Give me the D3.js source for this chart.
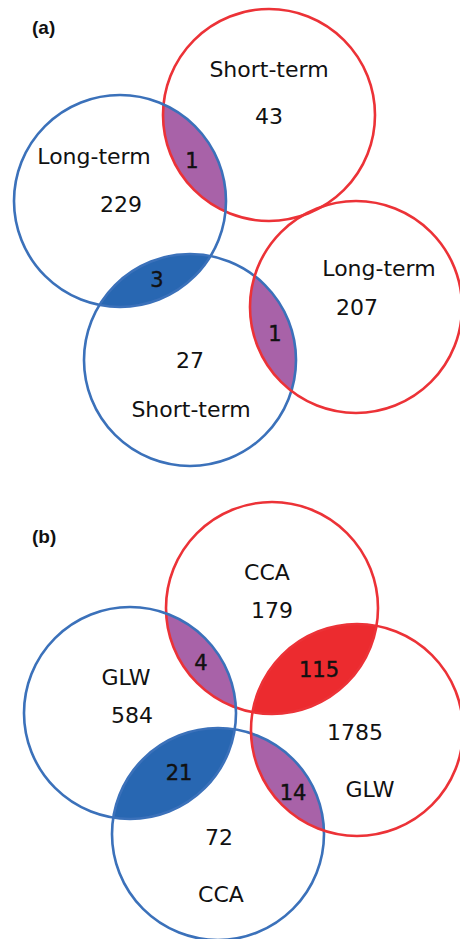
<!DOCTYPE html>
<html>
<head>
<meta charset="utf-8">
<script src="https://cdn.jsdelivr.net/npm/d3@7"></script>
<style>
  body { margin: 0; background: #fff; }
  text { font-family: "DejaVu Sans", Verdana, sans-serif; fill: #111; }
  .panel-label { font-family: "Liberation Sans", Arial, sans-serif; font-weight: bold; }
</style>
</head>
<body>
<svg id="chart" width="460" height="939"></svg>
<script>
// panel (a): sets are top, left, bottom, right circles
var setNamesA = ["Short-term", "Long-term", "Short-term", "Long-term"]
var setGroupA = ["red", "blue", "blue", "red"]
var uniqueA = [43, 229, 27, 207]
var overlapPairsA = [[0, 1], [1, 2], [2, 3]]
var overlapValuesA = [1, 3, 1]

// panel (b)
var setNamesB = ["CCA", "GLW", "CCA", "GLW"]
var setGroupB = ["red", "blue", "blue", "red"]
var uniqueB = [179, 584, 72, 1785]
var overlapPairsB = [[0, 1], [0, 3], [1, 2], [2, 3]]
var overlapValuesB = [4, 115, 21, 14]

var panelLabels = ["(a)", "(b)"]

// layout (pixel units inside each panel)
var layoutA = {
  offset: 0,
  circles: [[269, 115], [120, 201], [190, 360], [356, 307]],
  names: [[269, 77], [94, 164], [191, 417], [379, 276]],
  counts: [[269, 124], [121, 212], [190, 368], [357, 315]],
  overlaps: [[192, 168], [157, 287], [275, 341]],
  label: [32, 34]
}
var layoutB = {
  offset: 470,
  circles: [[272, 138], [130, 243], [218, 364], [357, 260]],
  names: [[267, 110], [126, 215], [221, 432], [370, 327]],
  counts: [[272, 148], [132, 253], [219, 375], [355, 270]],
  overlaps: [[201, 200], [319, 207], [179, 310], [293, 330]],
  label: [32, 73]
}

var strokeColor = { red: "#ec3237", blue: "#3b71ba" }
var fillColor = { red: "#ec2b2f", blue: "#2867b2", mixed: "#a862a8" }

var svg = d3.select('#chart')
var x = d3.scaleLinear().domain([0, 460]).range([0, 460])
var radius = 106

function drawPanel(idx, names, groups, counts, pairs, values, lay) {
  var y = d3.scaleLinear().domain([0, 469]).range([lay.offset, lay.offset + 469])
  var g = svg.append('g').attr('class', 'panel-' + idx)
  var defs = g.append('defs')

  lay.circles.forEach(function(c, i) {
    defs.append('clipPath').attr('id', 'clip-' + idx + '-' + i)
      .append('circle')
      .attr('cx', x(c[0])).attr('cy', y(c[1])).attr('r', radius)
  })

  // filled overlap lenses
  g.append('g').selectAll('circle')
    .data(pairs).enter().append('circle')
      .attr('cx', function(p) { return x(lay.circles[p[0]][0]) })
      .attr('cy', function(p) { return y(lay.circles[p[0]][1]) })
      .attr('r', radius)
      .attr('clip-path', function(p) { return 'url(#clip-' + idx + '-' + p[1] + ')' })
      .attr('fill', function(p) {
        var a = groups[p[0]], b = groups[p[1]]
        return a == b ? fillColor[a] : fillColor.mixed
      })

  // circle outlines
  g.append('g').selectAll('circle')
    .data(lay.circles).enter().append('circle')
      .attr('cx', function(d) { return x(d[0]) })
      .attr('cy', function(d) { return y(d[1]) })
      .attr('r', radius)
      .attr('fill', 'none')
      .attr('stroke', function(d, i) { return strokeColor[groups[i]] })
      .attr('stroke-width', 2.6)

  // set names
  g.append('g').selectAll('text')
    .data(names).enter().append('text')
      .attr('x', function(d, i) { return x(lay.names[i][0]) })
      .attr('y', function(d, i) { return y(lay.names[i][1]) })
      .attr('text-anchor', 'middle')
      .style('font-size', '22px')
      .text(function(d) { return d })

  // unique counts
  g.append('g').selectAll('text')
    .data(counts).enter().append('text')
      .attr('x', function(d, i) { return x(lay.counts[i][0]) })
      .attr('y', function(d, i) { return y(lay.counts[i][1]) })
      .attr('text-anchor', 'middle')
      .style('font-size', '22px')
      .text(function(d) { return d })

  // overlap counts
  g.append('g').selectAll('text')
    .data(values).enter().append('text')
      .attr('x', function(d, i) { return x(lay.overlaps[i][0]) })
      .attr('y', function(d, i) { return y(lay.overlaps[i][1]) })
      .attr('text-anchor', 'middle')
      .style('font-size', '21px')
      .style('stroke', '#111').style('stroke-width', 0.4)
      .text(function(d) { return d })

  g.append('text')
    .attr('class', 'panel-label')
    .attr('x', x(lay.label[0])).attr('y', y(lay.label[1]))
    .style('font-size', '19px')
    .text(panelLabels[idx])
}

drawPanel(0, setNamesA, setGroupA, uniqueA, overlapPairsA, overlapValuesA, layoutA)
drawPanel(1, setNamesB, setGroupB, uniqueB, overlapPairsB, overlapValuesB, layoutB)
</script>
</body>
</html>
